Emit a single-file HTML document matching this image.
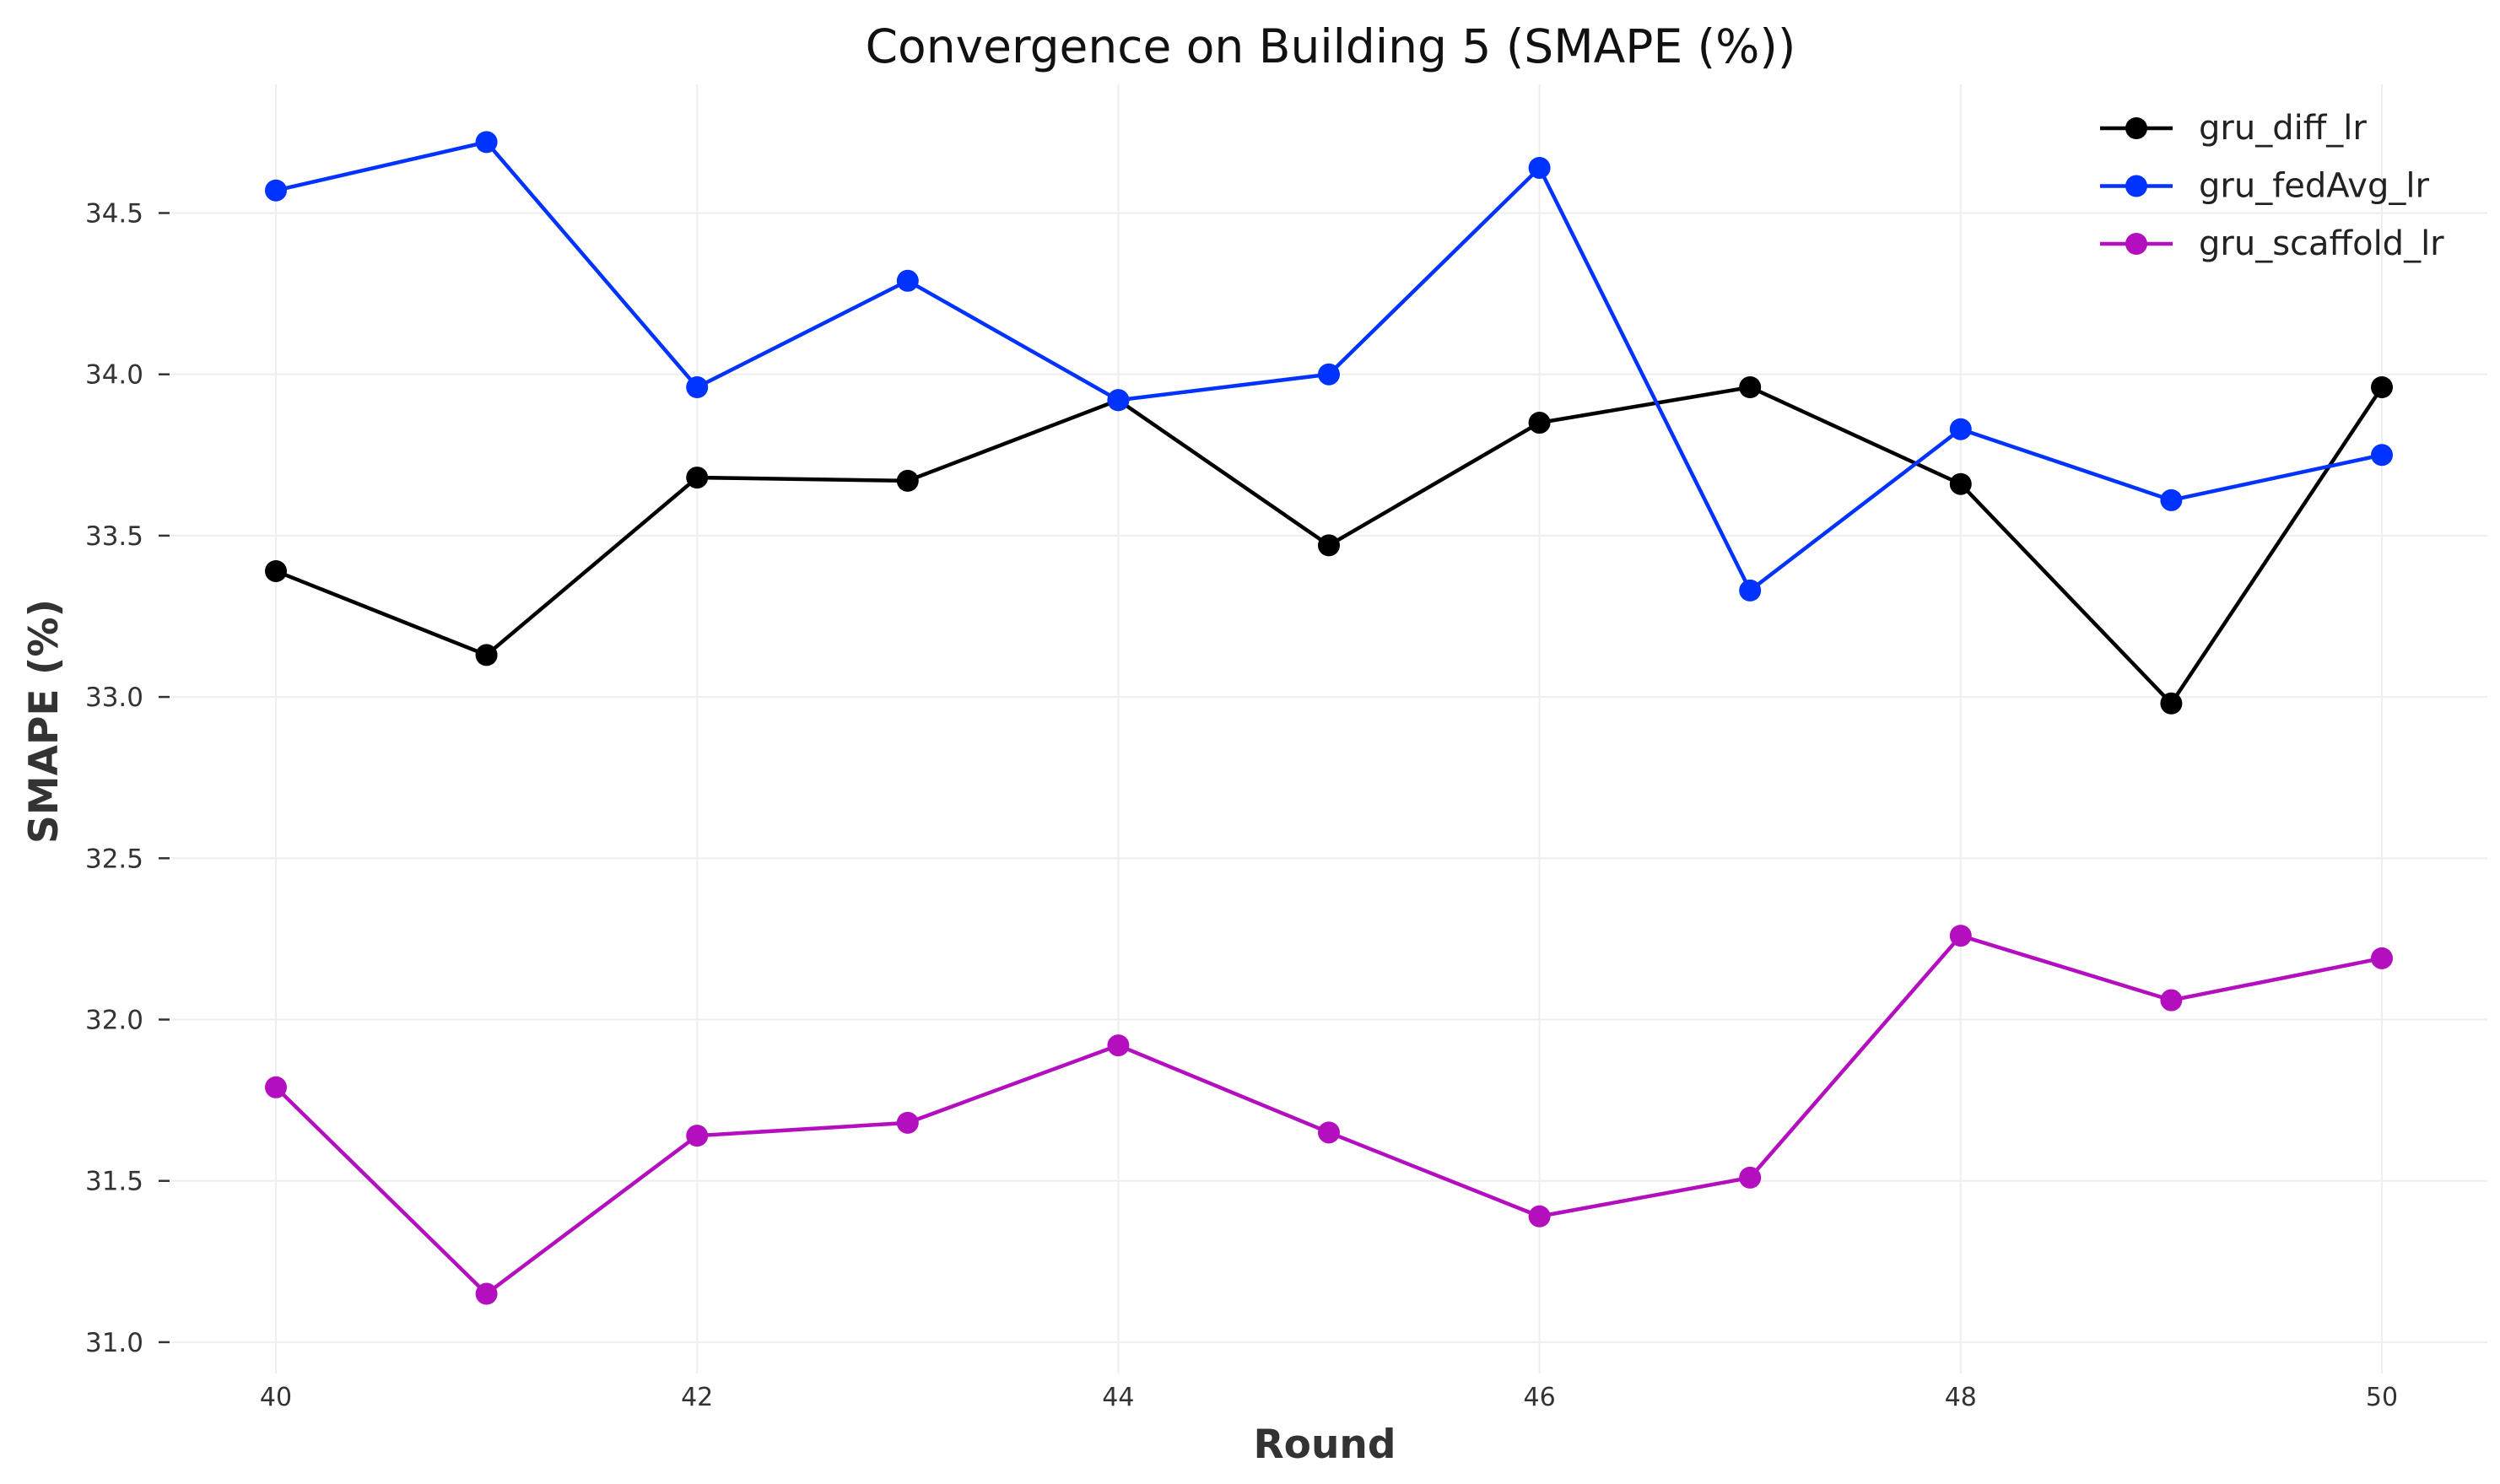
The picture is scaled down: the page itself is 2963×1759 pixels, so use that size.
<!DOCTYPE html>
<html><head><meta charset="utf-8"><style>
body{margin:0;background:#fff}
svg{display:block;font-family:"DejaVu Sans","Liberation Sans",sans-serif}
</style></head><body>
<svg id="chart" width="2963" height="1759" viewBox="0 0 2963 1759">
<text x="1577" y="74" text-anchor="middle" font-size="55" fill="#111">Convergence on Building 5 (SMAPE (%))</text>
<g id="grid"></g>
<g id="axes"></g>
<g id="series"></g>
<text x="1570" y="1728" text-anchor="middle" font-size="47" font-weight="bold" fill="#333">Round</text>
<text transform="translate(68,855) rotate(-90)" text-anchor="middle" font-size="47" font-weight="bold" fill="#333">SMAPE (%)</text>
<g id="legend"></g>
</svg>
<script>
const rounds=[40,41,42,43,44,45,46,47,48,49,50];
const diffVals=[33.39,33.13,33.68,33.67,33.92,33.47,33.85,33.96,33.66,32.98,33.96];
const fedAvgVals=[34.57,34.72,33.96,34.29,33.92,34.00,34.64,33.33,33.83,33.61,33.75];
const scaffoldVals=[31.79,31.15,31.64,31.68,31.92,31.65,31.39,31.51,32.26,32.06,32.19];
const seriesNames=["gru_diff_lr","gru_fedAvg_lr","gru_scaffold_lr"];
const xTicks=[40,42,44,46,48,50];
const yTicks=[31.0,31.5,32.0,32.5,33.0,33.5,34.0,34.5];

const NS="http://www.w3.org/2000/svg";
function X(v){return 327+(v-40)*249.6;}
function Y(v){return 252.5+(34.5-v)*382.4;}
function mk(tag,attrs,parent){const e=document.createElementNS(NS,tag);for(const k in attrs)e.setAttribute(k,attrs[k]);parent.appendChild(e);return e;}
const grid=document.getElementById('grid'),axes=document.getElementById('axes'),ser=document.getElementById('series'),leg=document.getElementById('legend');
for(const t of xTicks){
  const l=mk('line',{x1:X(t),x2:X(t),y1:100,y2:1628,stroke:'#eeeeee','stroke-width':2},grid);
  
  
  const tx=mk('text',{x:X(t),y:1666,'text-anchor':'middle','font-size':30,fill:'#333'},axes);
  tx.textContent=t;
  
  
}
for(const t of yTicks){
  const l=mk('line',{x1:203,x2:2948,y1:Y(t),y2:Y(t),stroke:'#eeeeee','stroke-width':2},grid);
  
  
  const tk=mk('line',{x1:188,x2:201,y1:Y(t),y2:Y(t),stroke:'#333','stroke-width':2.5},axes);
  
  
  const tx=mk('text',{x:170,y:Y(t)+11,'text-anchor':'end','font-size':31,fill:'#333'},axes);
  tx.textContent=t.toFixed(1);
  
  
}
const allVals=[diffVals,fedAvgVals,scaffoldVals];
const colors=['#000000','#0033ff','#b30fbf'];
allVals.forEach((vals,i)=>{
  const g=mk('g',{},ser);
  
  
  const pts=vals.map((v,j)=>X(rounds[j])+','+Y(v)).join(' ');
  const pl=mk('polyline',{points:pts,fill:'none',stroke:colors[i],'stroke-width':4.5},g);
  
  
  vals.forEach((v,j)=>{
    const c=mk('circle',{cx:X(rounds[j]),cy:Y(v),r:13,fill:colors[i]},g);
    
    
  });
  const ly=152+i*68.5;
  const e=mk('g',{},leg);
  
  
  mk('line',{x1:2489,x2:2575,y1:ly,y2:ly,stroke:colors[i],'stroke-width':4.5},e);
  mk('circle',{cx:2532,cy:ly,r:13,fill:colors[i]},e);
  const lt=mk('text',{x:2606,y:ly+13,'font-size':40,fill:'#222'},e);
  lt.textContent=seriesNames[i];
});
</script>
</body></html>
